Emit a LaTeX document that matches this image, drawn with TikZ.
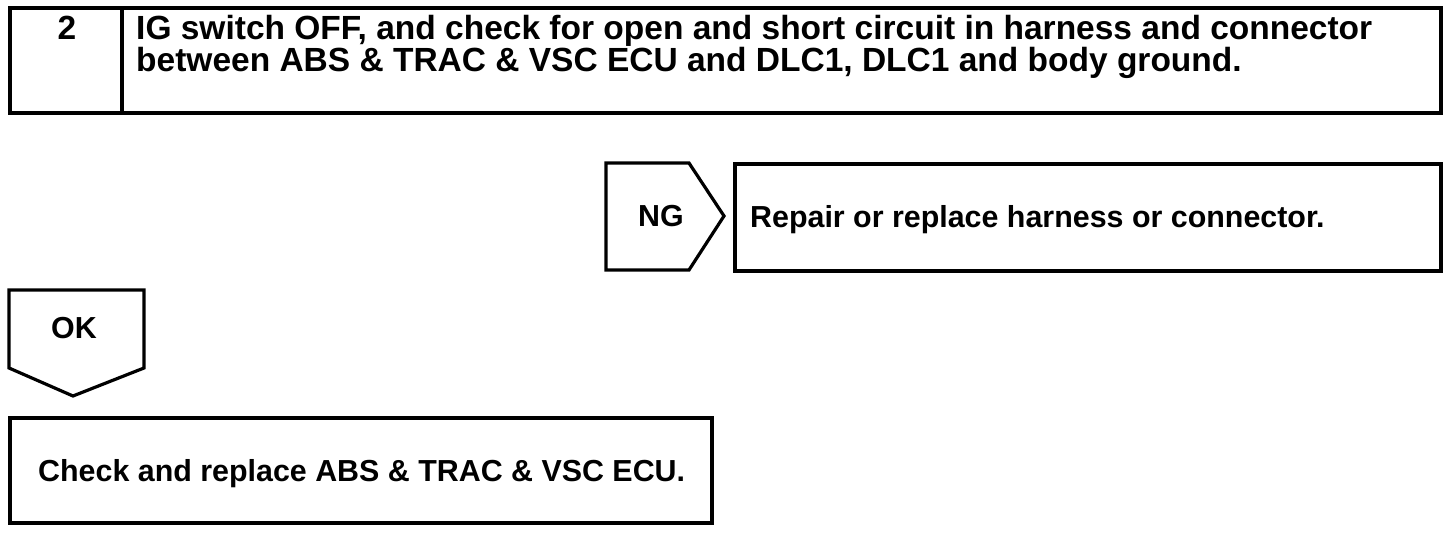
\documentclass[tikz,border=0pt]{standalone}
\usepackage{fontspec}
\setmainfont{Liberation Sans}
\begin{document}
\begin{tikzpicture}[x=1pt,y=-1pt,
  box/.style={draw=black,line width=3.2pt},
  txt/.style={inner sep=0pt,anchor=base west,font=\bfseries\fontsize{30.4}{32}\selectfont},
  ctxt/.style={inner sep=0pt,anchor=base,font=\bfseries\fontsize{30.4}{32}\selectfont},
  big/.style={font=\bfseries\fontsize{33.5}{34}\selectfont}]
\useasboundingbox[fill=white] (0,0) rectangle (1456,534);
% top box
\draw[box] (10,8) rectangle (1441,113);
\draw[box] (122,8) -- (122,113);
\node[ctxt,big] (num) at (67,40) {2};
\node[txt,big] (l1) at (136,40) {IG switch OFF, and check for open and short circuit in harness and connector};
\node[txt,big] (l2) at (136,72) {between ABS \& TRAC \& VSC ECU and DLC1, DLC1 and body ground.};
% NG
\draw[box] (606,163) -- (689,163) -- (724,216) -- (689,270) -- (606,270) -- cycle;
\node[ctxt] (ng) at (661,227) {NG};
\draw[box] (735,164) rectangle (1441,271);
\node[txt] (rep) at (750,228) {Repair or replace harness or connector.};
% OK
\draw[box] (9,290) -- (144,290) -- (144,368) -- (73,396) -- (9,368) -- cycle;
\node[ctxt] (ok) at (74,339) {OK};
\draw[box] (10,418) rectangle (712,523);
\node[txt] (chk) at (38,481) {Check and replace ABS \& TRAC \& VSC ECU.};
\end{tikzpicture}
\end{document}
